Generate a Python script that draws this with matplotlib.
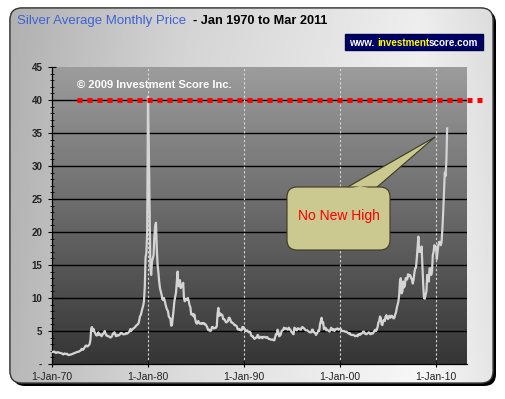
import numpy as np
import pandas as pd
import matplotlib
matplotlib.use('Agg')
import matplotlib.pyplot as plt
from matplotlib.patches import FancyBboxPatch, Polygon, Rectangle
from matplotlib.colors import LinearSegmentedColormap
from datetime import datetime

plt.rcParams['font.family'] = ['Liberation Sans', 'DejaVu Sans']

### ------------------- Data -------------------
# average monthly silver price, US$/oz, one row per year
s1970s = [
    1.80, 1.85, 1.87, 1.88, 1.75, 1.68, 1.73, 1.80, 1.75, 1.72, 1.70, 1.65,
    1.62, 1.55, 1.45, 1.55, 1.60, 1.52, 1.50, 1.55, 1.40, 1.35, 1.38, 1.40,
    1.45, 1.50, 1.55, 1.60, 1.65, 1.70, 1.75, 1.80, 1.85, 1.85, 1.90, 2.00,
    2.05, 2.30, 2.25, 2.15, 2.35, 2.55, 2.75, 2.80, 2.65, 2.70, 2.85, 3.00,
    3.60, 5.40, 5.60, 5.00, 5.30, 4.90, 4.70, 4.40, 4.30, 4.50, 4.80, 4.40,
    4.40, 4.50, 4.20, 4.40, 4.60, 4.70, 5.00, 4.60, 4.30, 4.30, 4.20, 4.20,
    4.10, 4.00, 4.10, 4.20, 4.60, 4.60, 4.80, 4.60, 4.20, 4.30, 4.40, 4.30,
    4.40, 4.50, 4.70, 4.70, 4.60, 4.50, 4.50, 4.50, 4.60, 4.70, 4.60, 4.70,
    4.80, 5.00, 5.30, 5.00, 5.20, 5.30, 5.40, 5.50, 5.60, 5.80, 5.90, 6.00,
    6.10, 6.60, 7.20, 7.40, 7.90, 8.40, 8.80, 9.50, 11.7, 16.2, 16.8, 20.0,
]
s1980s = [
    40.5, 33.0, 24.0, 14.5, 13.5, 15.5, 16.0, 16.5, 19.5, 21.0, 21.4, 17.5,
    15.0, 13.8, 12.5, 11.5, 11.0, 10.5, 9.80, 9.70, 10.0, 9.50, 9.00, 8.50,
    8.20, 8.00, 7.20, 7.00, 6.90, 5.80, 5.90, 7.00, 8.20, 9.50, 10.2, 10.8,
    12.5, 14.0, 11.8, 11.8, 12.7, 11.5, 12.0, 11.8, 12.3, 10.0, 9.50, 9.80,
    9.90, 9.70, 10.0, 9.50, 8.90, 8.60, 7.50, 7.50, 7.60, 7.20, 7.50, 6.80,
    6.30, 6.10, 6.40, 6.50, 6.20, 6.10, 6.10, 6.20, 6.10, 6.20, 6.20, 6.00,
    6.00, 5.80, 5.60, 5.20, 5.10, 5.20, 5.00, 5.10, 5.60, 5.60, 5.40, 5.40,
    5.50, 5.50, 5.70, 7.60, 8.50, 7.30, 7.70, 7.40, 7.50, 7.40, 6.80, 6.80,
    6.70, 6.40, 6.30, 6.40, 6.50, 7.00, 7.00, 6.70, 6.30, 6.30, 6.20, 6.10,
    5.90, 5.90, 5.80, 5.70, 5.30, 5.20, 5.30, 5.20, 5.10, 5.10, 5.60, 5.60,
]
s1990s = [
    5.30, 5.30, 5.00, 5.00, 5.10, 4.90, 4.80, 4.90, 4.80, 4.30, 4.20, 4.20,
    4.00, 3.80, 3.90, 4.00, 4.00, 4.40, 4.30, 3.90, 4.00, 4.10, 4.10, 3.90,
    4.10, 4.10, 4.10, 4.00, 4.00, 4.10, 3.90, 3.80, 3.80, 3.70, 3.70, 3.70,
    3.70, 3.60, 3.60, 4.10, 4.50, 4.50, 5.20, 4.90, 4.20, 4.30, 4.50, 5.00,
    5.10, 5.20, 5.50, 5.30, 5.40, 5.40, 5.30, 5.20, 5.50, 5.30, 5.20, 4.90,
    4.80, 4.60, 4.50, 5.50, 5.40, 5.20, 5.10, 5.40, 5.40, 5.30, 5.30, 5.20,
    5.50, 5.60, 5.50, 5.40, 5.30, 5.10, 5.10, 5.10, 5.00, 4.90, 4.80, 4.80,
    4.80, 5.20, 5.20, 4.80, 4.80, 4.70, 4.40, 4.60, 4.80, 5.10, 5.00, 6.00,
    6.50, 7.00, 6.20, 6.30, 5.30, 5.40, 5.50, 5.10, 5.20, 5.10, 5.00, 4.90,
    5.20, 5.50, 5.20, 5.10, 5.30, 5.00, 5.20, 5.30, 5.30, 5.40, 5.20, 5.30,
]
s2000s = [
    5.30, 5.30, 5.00, 5.00, 5.00, 5.00, 4.90, 4.90, 4.90, 4.80, 4.70, 4.60,
    4.70, 4.50, 4.40, 4.40, 4.40, 4.40, 4.30, 4.20, 4.30, 4.30, 4.20, 4.50,
    4.50, 4.40, 4.60, 4.60, 4.70, 4.90, 4.90, 4.60, 4.60, 4.50, 4.60, 4.70,
    4.80, 4.70, 4.50, 4.60, 4.70, 4.60, 4.80, 5.00, 5.20, 5.00, 5.20, 5.60,
    6.30, 6.50, 7.20, 7.00, 6.00, 5.90, 6.50, 6.70, 6.50, 7.20, 7.40, 7.00,
    6.80, 7.20, 7.30, 7.00, 7.30, 7.30, 7.10, 6.90, 7.00, 7.50, 7.80, 8.50,
    9.00, 9.50, 10.5, 12.5, 13.0, 10.7, 11.0, 12.5, 11.6, 11.8, 13.0, 13.0,
    12.8, 13.6, 13.3, 13.5, 13.4, 13.0, 12.8, 12.2, 12.8, 13.8, 14.5, 14.6,
    16.0, 17.8, 19.3, 17.0, 17.0, 17.0, 17.8, 15.0, 12.0, 10.0, 9.90, 10.5,
    11.0, 13.5, 13.0, 12.5, 14.5, 14.5, 13.5, 14.0, 16.5, 17.0, 18.0, 17.5,
]
s2010s = [
    17.8, 15.9, 17.0, 18.0, 18.5, 18.5, 18.0, 18.5, 20.5, 23.0, 26.0, 29.0,
    28.5, 31.0, 35.7,
]
prices = s1970s + s1980s + s1990s + s2000s + s2010s
months = pd.date_range('1970-01-01', periods=len(prices), freq='MS')

old_high = 40
yticks = [0, 5, 10, 15, 20, 25, 30, 35, 40, 45]
ytick_labels = ['-', '5', '10', '15', '20', '25', '30', '35', '40', '45']
xtick_years = [1970, 1980, 1990, 2000, 2010]
xtick_labels = ['1-Jan-70', '1-Jan-80', '1-Jan-90', '1-Jan-00', '1-Jan-10']

### ------------------- Figure -------------------
W, H = 505, 399
fig = plt.figure(figsize=(W / 100, H / 100), dpi=100)
fig.patch.set_facecolor('white')

# background panel with rounded frame (pixel coords)
bg = fig.add_axes([0, 0, 1, 1], zorder=0)
bg.axis('off')
shadow = FancyBboxPatch((13, 11), 483, 375, boxstyle='round,pad=0,rounding_size=12',
                        fc='black', ec='none')
bg.add_patch(shadow)
frame = FancyBboxPatch((10, 8), 483, 375, boxstyle='round,pad=0,rounding_size=12',
                       fc='white', ec='#444444', lw=0.8)
bg.add_patch(frame)
gx = np.linspace(0, 1, 256)
gcol = np.interp(gx, [0, 0.35, 0.85, 1], [0.72, 0.86, 0.97, 0.90])
gy = np.linspace(0, 1, 64)[:, None]
grad = gcol[None, :] * (0.96 + 0.04 * gy)
im = bg.imshow(grad, extent=[10, 493, 383, 8], cmap='gray', vmin=0, vmax=1,
               aspect='auto', zorder=1)
im.set_clip_path(frame)
edge = FancyBboxPatch((10, 8), 483, 375, boxstyle='round,pad=0,rounding_size=12',
                      fc='none', ec='#333333', lw=0.9, zorder=2)
bg.add_patch(edge)
bg.set_xlim(0, W)
bg.set_ylim(H, 0)

# main plot
ax = fig.add_axes([52 / W, 35 / H, 415 / W, 297 / H], zorder=2)
ax.patch.set_visible(False)
pcmap = LinearSegmentedColormap.from_list('plotbg', ['#353535', '#9c9c9c'])
ax.imshow(np.linspace(0, 1, 128)[:, None], extent=[0, 1, 0, 1], transform=ax.transAxes,
          cmap=pcmap, origin='lower', aspect='auto', zorder=0)

for yv in yticks[1:-1]:
    ax.axhline(yv, color='black', lw=1.0, zorder=1)
xdates = [datetime(y, 1, 1) for y in xtick_years]
for xd in xdates[1:]:
    ax.axvline(xd, color='#d8d8d8', lw=0.8, ls=(0, (2, 2)), zorder=1)

ax.plot(months, prices, color='#d4d4d4', lw=1.6, zorder=3)

ax.axhline(old_high, xmin=0.06, xmax=1.043, color='#ff0000', lw=3.6,
           ls=(0, (1, 1)), clip_on=False, zorder=4)

ax.set_xlim(datetime(1970, 1, 1), datetime(2013, 3, 25))
ax.set_ylim(0, 45)
ax.set_xticks(xdates)
ax.set_xticklabels(xtick_labels, fontsize=7.5, color='#222222')
ax.set_yticks(yticks)
ax.set_yticklabels(ytick_labels, fontsize=7, fontweight='bold', color='#222222')
ax.set_yticks(np.arange(0, 46, 1), minor=True)
ax.tick_params(axis='y', which='major', direction='inout', length=6, width=0.8, pad=4)
ax.tick_params(axis='y', which='minor', direction='inout', length=3, width=0.6)
ax.tick_params(axis='x', which='major', direction='inout', length=5, width=0.8, pad=3)
for s in ['top', 'right']:
    ax.spines[s].set_visible(False)
ax.spines['left'].set_linewidth(0.9)
ax.spines['bottom'].set_linewidth(0.9)

ax.text(25 / 415, 0.94, '\u00a9 2009 Investment Score Inc.', transform=ax.transAxes,
        color='white', fontsize=8, fontweight='bold', va='center', ha='left', zorder=5)

# overlay for title, logo box and callout (pixel coords)
ov = fig.add_axes([0, 0, 1, 1], zorder=5)
ov.axis('off')
ov.set_xlim(0, W)
ov.set_ylim(H, 0)

t1 = ov.text(17, 24, 'Silver Average Monthly Price', color='#3d62d6', fontsize=9.5,
             va='baseline')
ov.annotate('  - Jan 1970 to Mar 2011', xy=(1, 0), xycoords=t1, va='bottom',
            color='black', fontsize=9.2, fontweight='bold')

ov.add_patch(Rectangle((345, 34), 138, 16, fc='#000066', ec='#000044'))
w1 = ov.text(349, 46, 'www. ', color='white', fontsize=7.1, fontweight='bold', va='baseline')
w2 = ov.annotate('investment', xy=(1, 0), xycoords=w1, va='bottom',
                 color='#ffff00', fontsize=7.1, fontweight='bold')
ov.annotate('score.com', xy=(1, 0), xycoords=w2, va='bottom',
            color='white', fontsize=7.1, fontweight='bold')

callout_fc = '#cbc890'
ov.add_patch(Polygon([(346, 188), (376, 188), (435, 137)], closed=True,
                     fc=callout_fc, ec='#3a3a22', lw=0.8, zorder=1))
ov.add_patch(FancyBboxPatch((287, 187), 103, 63, boxstyle='round,pad=0,rounding_size=10',
                            fc=callout_fc, ec='#3a3a22', lw=0.8, zorder=2))
ov.add_patch(Polygon([(347, 189.5), (375, 189.5), (360, 186)], closed=True,
                     fc=callout_fc, ec='none', zorder=3))
ov.text(339, 216, 'No New High', color='#ff0000', fontsize=10, ha='center', va='center', zorder=4)

plt.savefig('out.png', dpi=100)
